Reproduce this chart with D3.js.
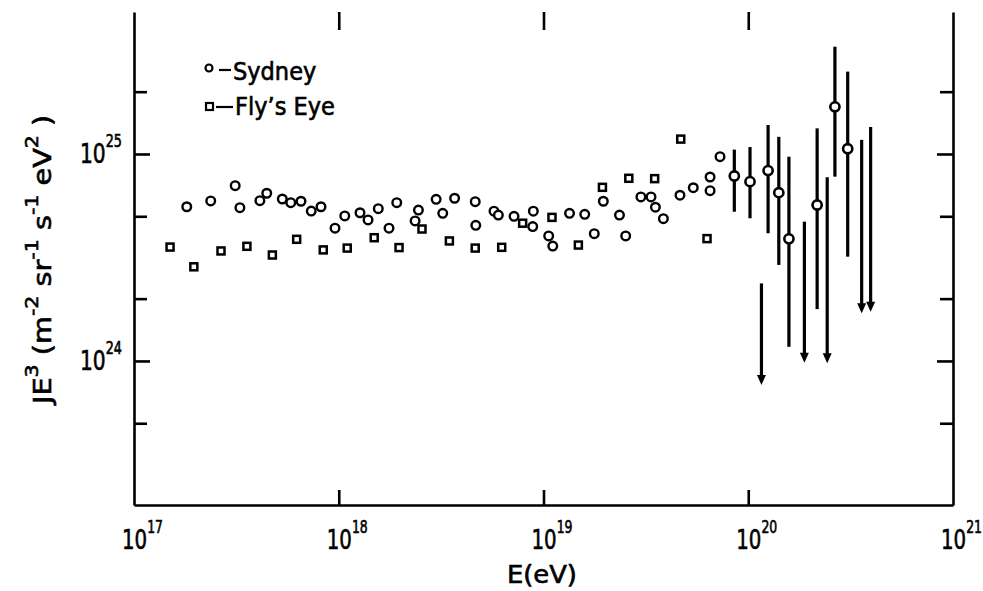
<!DOCTYPE html>
<html><head><meta charset="utf-8">
<script src="https://cdn.jsdelivr.net/npm/d3@7"></script>
<style>body{margin:0;background:#fff} svg{display:block} text{stroke:#000;stroke-width:0.6px}</style>
</head><body>
<svg id="c" width="983" height="591"></svg>
<script>
// Sydney (circles)
const sydneyE = [1.81e17,2.37e17,3.12e17,3.29e17,4.12e17,4.45e17,5.30e17,5.83e17,6.54e17,7.34e17,8.19e17,9.59e17,
  1.07e18,1.27e18,1.39e18,1.56e18,1.76e18,1.92e18,2.36e18,2.45e18,2.99e18,3.22e18,3.68e18,4.64e18,4.67e18,5.73e18,6.02e18,7.18e18,8.92e18,8.86e18,
  1.06e19,1.11e19,1.34e19,1.59e19,1.77e19,1.96e19,2.35e19,2.52e19,2.99e19,3.35e19,3.52e19,3.85e19,4.64e19,5.39e19,6.51e19,6.51e19,7.28e19];
const sydneyJ = [5.56e24,5.93e24,7.03e24,5.50e24,5.95e24,6.46e24,6.06e24,5.82e24,5.91e24,5.30e24,5.56e24,4.38e24,
  5.02e24,5.20e24,4.80e24,5.44e24,4.38e24,5.82e24,4.75e24,5.36e24,6.04e24,5.17e24,6.11e24,5.88e24,4.52e24,5.29e24,5.07e24,5.00e24,5.29e24,4.46e24,
  4.02e24,3.59e24,5.17e24,5.11e24,4.12e24,5.91e24,5.07e24,4.02e24,6.20e24,6.20e24,5.53e24,4.87e24,6.32e24,6.87e24,7.74e24,6.65e24,9.70e24];
// Sydney points with error bars
const errE  = [8.55e19,1.02e20,1.25e20,1.41e20,1.58e20,2.17e20,2.65e20,3.06e20];
const errJ  = [7.83e24,7.35e24,8.31e24,6.50e24,3.89e24,5.67e24,1.69e25,1.06e25];
const errLo = [5.26e24,4.89e24,4.14e24,2.91e24,1.17e24,1.78e24,7.77e24,3.19e24];
const errHi = [1.05e25,1.08e25,1.38e25,1.21e25,9.70e24,1.33e25,3.30e25,2.50e25];
// Sydney upper limits (arrows)
const limE   = [1.16e20,1.88e20,2.43e20,3.58e20,3.96e20];
const limTop = [2.37e24,4.71e24,7.72e24,1.17e25,1.35e25];
const limTip = [7.66e23,9.81e23,9.75e23,1.70e24,1.73e24];
// Fly's Eye (squares)
const flysE = [1.50e17,1.96e17,2.66e17,3.56e17,4.74e17,6.23e17,8.40e17,1.10e18,1.49e18,1.97e18,2.55e18,3.47e18,4.64e18,6.25e18,7.91e18,
  1.10e19,1.48e19,1.94e19,2.61e19,3.49e19,4.68e19,6.29e19];
const flysJ = [3.55e24,2.85e24,3.40e24,3.58e24,3.25e24,3.87e24,3.44e24,3.51e24,3.94e24,3.53e24,4.34e24,3.80e24,3.51e24,3.54e24,4.63e24,
  4.94e24,3.63e24,6.90e24,7.63e24,7.60e24,1.18e25,3.90e24];

const xTickValues = [1e17,1e18,1e19,1e20,1e21];
const xTickExp = ["17","18","19","20","21"];
const yMajorValues = [1e24,1e25];
const yMajorExp = ["24","25"];
const yMinorValues = [5e23,2e24,5e24,2e25];

const FONT = "'DejaVu Sans Condensed','DejaVu Sans',sans-serif";
const svg = d3.select("#c");
const L=134, R=953, T=12, B=505;
const x = d3.scaleLog().domain([1e17,1e21]).range([L,R]);
const y = d3.scaleLog().domain([Math.pow(10,23.304), Math.pow(10,25.686)]).range([B,T]);

const axStyle = g => { g.selectAll("path,line").attr("stroke","#000").attr("stroke-width",2.6); g.selectAll("text").remove(); };

// fit a text element horizontally to a width (scaling glyphs), anchored at start
function fitWidth(t, w){
  const bb = t.node().getBBox();
  const s = w / bb.width;
  t.attr("transform", `scale(${s},1)`).attr("x", +t.attr("x")/s);
}

// frame: left, bottom, right
svg.append("g").attr("transform",`translate(${L},0)`)
  .call(d3.axisLeft(y).tickValues(yMajorValues).tickSize(-16).tickSizeOuter(0).tickFormat("")).call(axStyle);
svg.append("g").attr("transform",`translate(${L},0)`)
  .call(d3.axisLeft(y).tickValues(yMinorValues).tickSize(-13).tickFormat("")).call(axStyle).select(".domain").remove();
svg.append("g").attr("transform",`translate(${R},0)`)
  .call(d3.axisRight(y).tickValues(yMajorValues).tickSize(-16).tickSizeOuter(0).tickFormat("")).call(axStyle);
svg.append("g").attr("transform",`translate(${R},0)`)
  .call(d3.axisRight(y).tickValues(yMinorValues).tickSize(-13).tickFormat("")).call(axStyle).select(".domain").remove();
svg.append("g").attr("transform",`translate(0,${B})`)
  .call(d3.axisBottom(x).tickValues(xTickValues.slice(1,4)).tickSize(-15).tickSizeOuter(0).tickFormat("")).call(axStyle);
svg.append("g").attr("transform",`translate(0,${T})`)
  .call(d3.axisTop(x).tickValues(xTickValues.slice(1,4)).tickSize(-18).tickFormat("")).call(axStyle).select(".domain").remove();

// x tick labels
xTickValues.forEach((v,i)=>{
  const t = svg.append("text").attr("x",x(v)-12).attr("y",549)
    .attr("font-family",FONT).attr("font-size",27).attr("fill","#000");
  t.append("tspan").text("10");
  t.append("tspan").attr("dy",-16).attr("font-size",17).text(xTickExp[i]);
  fitWidth(t, 41);
});
// y tick labels
yMajorValues.forEach((v,i)=>{
  const t = svg.append("text").attr("x",L-54).attr("y",y(v)+9)
    .attr("font-family",FONT).attr("font-size",27).attr("fill","#000");
  t.append("tspan").text("10");
  t.append("tspan").attr("dy",-16).attr("font-size",17).text(yMajorExp[i]);
  fitWidth(t, 42);
});

// axis titles
const xt = svg.append("text").attr("x",507).attr("y",583)
  .attr("font-family",FONT).attr("font-size",25).text("E(eV)");
fitWidth(xt, 70);

const ylg = svg.append("g").attr("transform","translate(51,404) rotate(-90)");
const yl = ylg.append("text").attr("x",0).attr("y",0).attr("font-family",FONT).attr("font-size",25);
const yParts = [["JE","3"],[" (m","-2"],[" sr","-1"],[" s","-1"],[" eV","2"],[" )",null]];
let shift = 0;
yParts.forEach(([s,sup])=>{
  yl.append("tspan").attr("dy",-shift).text(s); shift = 0;
  if(sup){ yl.append("tspan").attr("dy",-13).attr("font-size",18).text(sup); shift = -13; }
});
fitWidth(yl, 292);

// Fly's Eye squares
const sq = 7;
svg.append("g").selectAll("rect").data(flysE).join("rect")
  .attr("x",(d,i)=>x(d)-sq/2).attr("y",(d,i)=>y(flysJ[i])-sq/2).attr("width",sq).attr("height",sq)
  .attr("fill","#fff").attr("stroke","#000").attr("stroke-width",2.5);

// Sydney circles
svg.append("g").selectAll("circle").data(sydneyE).join("circle")
  .attr("cx",d=>x(d)).attr("cy",(d,i)=>y(sydneyJ[i])).attr("r",4.3)
  .attr("fill","#fff").attr("stroke","#000").attr("stroke-width",2.4);

// upper-limit arrows
const ga = svg.append("g");
limE.forEach((e,i)=>{
  const cx = x(e), y0 = y(limTop[i]), y1 = y(limTip[i]);
  ga.append("line").attr("x1",cx).attr("x2",cx).attr("y1",y0).attr("y2",y1-6).attr("stroke","#000").attr("stroke-width",3.2);
  ga.append("path").attr("d",`M${cx-4.5},${y1-10}L${cx+4.5},${y1-10}L${cx},${y1}Z`).attr("fill","#000");
});

// error bars
const ge = svg.append("g");
errE.forEach((e,i)=>{
  ge.append("line").attr("x1",x(e)).attr("x2",x(e)).attr("y1",y(errHi[i])).attr("y2",y(errLo[i]))
    .attr("stroke","#000").attr("stroke-width",3.2);
});
ge.selectAll("circle").data(errE).join("circle")
  .attr("cx",d=>x(d)).attr("cy",(d,i)=>y(errJ[i])).attr("r",4.6)
  .attr("fill","#fff").attr("stroke","#000").attr("stroke-width",2.6);

// legend
const lg = svg.append("g").attr("font-family",FONT).attr("font-size",25);
lg.append("circle").attr("cx",209).attr("cy",68).attr("r",3.5).attr("fill","#fff").attr("stroke","#000").attr("stroke-width",2.2);
lg.append("line").attr("x1",219).attr("x2",231).attr("y1",70).attr("y2",70).attr("stroke","#000").attr("stroke-width",2.2);
lg.append("text").attr("x",233).attr("y",80).text("Sydney");
lg.append("rect").attr("x",206).attr("y",103).attr("width",7).attr("height",7).attr("fill","#fff").attr("stroke","#000").attr("stroke-width",2.2);
lg.append("line").attr("x1",216).attr("x2",233).attr("y1",107).attr("y2",107).attr("stroke","#000").attr("stroke-width",2.2);
lg.append("text").attr("x",235).attr("y",115).text("Fly’s Eye");
</script>
</body></html>
